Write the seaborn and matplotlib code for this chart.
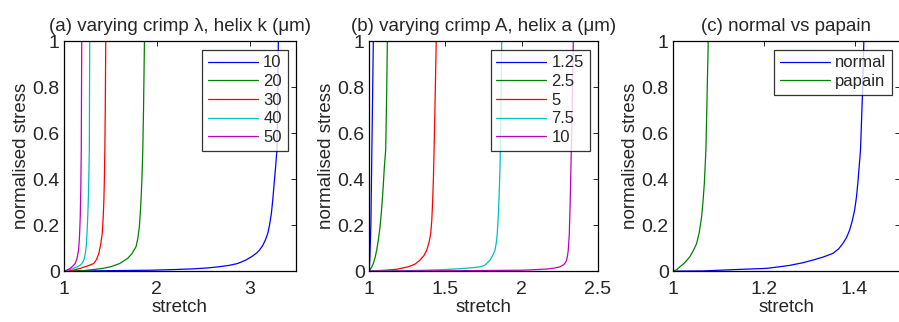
import numpy as np
import pandas as pd
import matplotlib
matplotlib.use('Agg')
import matplotlib.pyplot as plt
import seaborn as sns

# (a) varying crimp lambda, helix k (um)
a_labels = ['10', '20', '30', '40', '50']
a_x = [
    [1.0, 1.5, 1.94, 2.2, 2.4, 2.55, 2.67, 2.78, 2.87, 2.96, 3.03, 3.08, 3.105, 3.14, 3.17,
     3.196, 3.215, 3.235, 3.25, 3.265, 3.28, 3.295, 3.303, 3.31],
    [1.0, 1.1, 1.2, 1.32, 1.42, 1.503, 1.6, 1.685, 1.73, 1.76, 1.776, 1.795, 1.812, 1.822,
     1.83, 1.84, 1.849, 1.857, 1.867],
    [1.0, 1.05, 1.1, 1.175, 1.25, 1.32, 1.35, 1.375, 1.395, 1.412, 1.422, 1.43, 1.436, 1.44,
     1.445, 1.45],
    [1.0, 1.05, 1.1, 1.14, 1.175, 1.2, 1.215, 1.23, 1.24, 1.248, 1.256, 1.262, 1.266, 1.273,
     1.277],
    [1.0, 1.03, 1.066, 1.095, 1.12, 1.14, 1.157, 1.167, 1.175, 1.181, 1.186, 1.191],
]
a_y = [
    [0.0, 0.002, 0.004, 0.007, 0.01, 0.014, 0.019, 0.025, 0.033, 0.048, 0.065, 0.08, 0.091,
     0.11, 0.135, 0.164, 0.2, 0.25, 0.31, 0.38, 0.45, 0.526, 0.7, 1.0],
    [0.0, 0.001, 0.002, 0.007, 0.012, 0.019, 0.033, 0.055, 0.075, 0.095, 0.106, 0.14, 0.193,
     0.25, 0.31, 0.4, 0.526, 0.7, 1.0],
    [0.0, 0.002, 0.004, 0.012, 0.022, 0.033, 0.05, 0.077, 0.115, 0.164, 0.23, 0.31, 0.42,
     0.526, 0.72, 1.0],
    [0.0, 0.005, 0.012, 0.018, 0.026, 0.037, 0.05, 0.077, 0.11, 0.164, 0.24, 0.31, 0.38,
     0.526, 1.0],
    [0.0, 0.004, 0.012, 0.022, 0.033, 0.055, 0.091, 0.15, 0.236, 0.36, 0.526, 1.0],
]

# (b) varying crimp A, helix a (um)
b_labels = ['1.25', '2.5', '5', '7.5', '10']
b_x = [
    [1.0, 1.005, 1.012, 1.018, 1.024, 1.028],
    [1.0, 1.006, 1.015, 1.028, 1.04, 1.05, 1.062, 1.072, 1.08, 1.087, 1.094, 1.1, 1.109,
     1.115, 1.12],
    [1.0, 1.05, 1.105, 1.18, 1.257, 1.3, 1.334, 1.36, 1.378, 1.393, 1.404, 1.411, 1.417,
     1.422, 1.426, 1.433, 1.44],
    [1.0, 1.2, 1.367, 1.5, 1.6, 1.68, 1.727, 1.76, 1.792, 1.81, 1.825, 1.834, 1.84, 1.846,
     1.851, 1.858, 1.863, 1.869],
    [1.0, 1.6, 2.01, 2.164, 2.22, 2.251, 2.275, 2.29, 2.3, 2.305, 2.312, 2.318, 2.325, 2.332,
     2.338],
]
b_y = [
    [0.0, 0.05, 0.2, 0.5, 0.8, 1.0],
    [0.0, 0.005, 0.015, 0.033, 0.06, 0.091, 0.14, 0.193, 0.25, 0.31, 0.38, 0.45, 0.526,
     0.75, 1.0],
    [0.0, 0.002, 0.004, 0.008, 0.019, 0.03, 0.048, 0.068, 0.091, 0.125, 0.164, 0.22, 0.31,
     0.41, 0.526, 0.75, 1.0],
    [0.0, 0.002, 0.004, 0.007, 0.011, 0.015, 0.019, 0.026, 0.048, 0.068, 0.091, 0.125, 0.164,
     0.23, 0.31, 0.45, 0.65, 1.0],
    [0.0, 0.002, 0.004, 0.009, 0.014, 0.019, 0.028, 0.04, 0.065, 0.091, 0.164, 0.31, 0.526,
     0.75, 1.0],
]

# (c) normal vs papain
c_labels = ['normal', 'papain']
c_x = [
    [1.0, 1.067, 1.14, 1.206, 1.235, 1.257, 1.285, 1.308, 1.332, 1.352, 1.365, 1.374, 1.382,
     1.389, 1.395, 1.4, 1.404, 1.407, 1.413, 1.417, 1.4204],
    [1.0, 1.008, 1.0154, 1.025, 1.037, 1.045, 1.052, 1.058, 1.063, 1.066, 1.069, 1.0725,
     1.075, 1.0776],
]
c_y = [
    [0.0, 0.001, 0.007, 0.012, 0.019, 0.025, 0.036, 0.048, 0.062, 0.077, 0.097, 0.12, 0.145,
     0.178, 0.22, 0.265, 0.32, 0.38, 0.526, 0.75, 1.0],
    [0.0, 0.006, 0.019, 0.035, 0.062, 0.09, 0.12, 0.17, 0.236, 0.3, 0.38, 0.526, 0.75, 1.0],
]

colors = ['#0000ff', '#008000', '#ff0000', '#00bfbf', '#bf00bf']

sns.set_style('white')
plt.rcParams['font.family'] = ['Liberation Sans', 'DejaVu Sans']
plt.rcParams['xtick.direction'] = 'in'
plt.rcParams['ytick.direction'] = 'in'

fig = plt.figure(figsize=(8.99, 3.22), dpi=100)
positions = [[0.0712, 0.158, 0.258, 0.714],
             [0.4105, 0.158, 0.2547, 0.714],
             [0.7486, 0.158, 0.2525, 0.714]]
titles = [u'(a) varying crimp \u03bb, helix k (\u03bcm)',
          u'(b) varying crimp A, helix a (\u03bcm)',
          '(c) normal vs papain']
xlims = [(1, 3.5), (1, 2.5), (1, 1.5)]
xticks = [[1, 2, 3], [1, 1.5, 2, 2.5], [1, 1.2, 1.4]]
xticklabels = [['1', '2', '3'], ['1', '1.5', '2', '2.5'], ['1', '1.2', '1.4']]
panels = [(a_labels, a_x, a_y), (b_labels, b_x, b_y), (c_labels, c_x, c_y)]

for i, (labels, xs, ys) in enumerate(panels):
    ax = fig.add_axes(positions[i])
    for j, lab in enumerate(labels):
        df = pd.DataFrame({'stretch': xs[j], 'stress': ys[j]})
        sns.lineplot(data=df, x='stretch', y='stress', color=colors[j],
                     label=lab, lw=0.9, sort=False, estimator=None, ax=ax)
    ax.set_xlim(*xlims[i])
    ax.set_ylim(0, 1)
    ax.set_xticks(xticks[i])
    ax.set_xticklabels(xticklabels[i])
    ax.set_yticks([0, 0.2, 0.4, 0.6, 0.8, 1])
    ax.set_yticklabels(['0', '0.2', '0.4', '0.6', '0.8', '1'])
    ax.tick_params(labelsize=14, length=3.5, width=0.7, top=True, right=True)
    ax.tick_params(axis='x', pad=7)
    ax.tick_params(axis='y', pad=3)
    for s in ax.spines.values():
        s.set_color('black')
        s.set_linewidth(0.9)
    ax.set_xlabel('stretch', fontsize=13.5, labelpad=1)
    ax.set_ylabel('normalised stress', fontsize=13.5, labelpad=2)
    ax.set_title(titles[i], fontsize=13.5, pad=7)
    leg = ax.legend(loc='upper right', fontsize=12, handlelength=3.0,
                    frameon=True, fancybox=False, borderpad=0.35,
                    labelspacing=0.22, handletextpad=0.3, borderaxespad=0.5)
    leg.get_frame().set_edgecolor('black')
    leg.get_frame().set_linewidth(0.9)

fig.savefig('out.png', dpi=100, facecolor='white')
